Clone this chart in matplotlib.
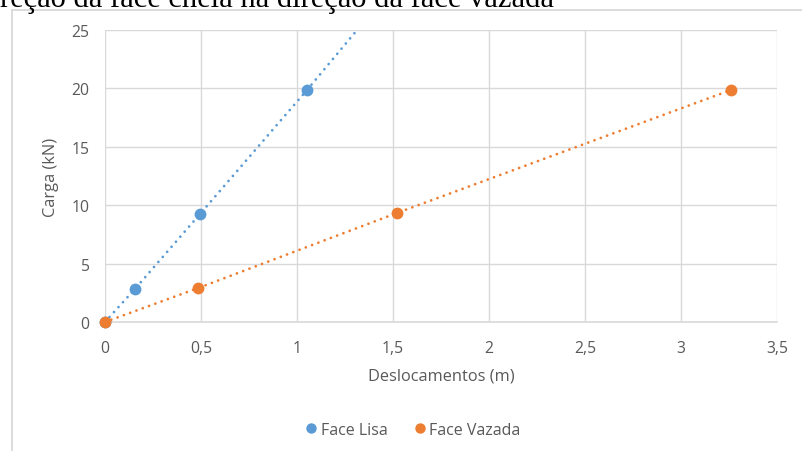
import matplotlib
matplotlib.use("Agg")
import matplotlib.pyplot as plt
from matplotlib.lines import Line2D
from matplotlib.patches import Rectangle
from matplotlib.ticker import FuncFormatter

# Load-displacement readings for the two faces
lisa_desloc = [0.0, 0.156, 0.495, 1.052, 1.567]
lisa_carga = [0.0, 2.83, 9.25, 19.86, 30.0]
vazada_desloc = [0.0, 0.484, 1.52, 3.26]
vazada_carga = [0.0, 2.90, 9.33, 19.86]

series_names = ["Face Lisa", "Face Vazada"]
x_ticks = [0, 0.5, 1, 1.5, 2, 2.5, 3, 3.5]
y_ticks = [0, 5, 10, 15, 20, 25]

BLUE = "#5B9BD5"
ORANGE = "#ED7D31"
GRID = "#D9D9D9"
TEXT = "#595959"
X_MAX, Y_MAX = 3.5, 25

plt.rcParams["font.family"] = ["Open Sans", "DejaVu Sans"]

W, H = 802, 452
fig = plt.figure(figsize=(W / 100, H / 100), dpi=100)

# caption line from the page above the chart (top half cut off)
fig.text(0 / W, 1 - 7 / H, "reção da face cheia na direção da face vazada",
         family=["Liberation Serif"], fontsize=22, color="black",
         ha="left", va="baseline")

# chart area frame
fig.patches.append(Rectangle((11.5 / W, -0.1), 1.2, 1 - 11 / H + 0.1,
                             transform=fig.transFigure, fill=False,
                             edgecolor=GRID, linewidth=1.3))

left, right, top, bottom = 105, 777, 31, 323
ax = fig.add_axes([left / W, 1 - bottom / H, (right - left) / W, (bottom - top) / H])

dot_style = dict(linestyle=(0, (0.01, 2.4)), linewidth=2.0, dash_capstyle="round")


def draw_series(xs, ys, color, z):
    # dotted connecting line, clipped to the plot area
    ax.plot(xs, ys, color=color, zorder=z, **dot_style)
    # markers drawn unclipped, only for points inside the axis range
    px = [x for x, y in zip(xs, ys) if x <= X_MAX and y <= Y_MAX]
    py = [y for x, y in zip(xs, ys) if x <= X_MAX and y <= Y_MAX]
    ax.plot(px, py, color=color, marker="o", markersize=8.5, linestyle="none",
            markeredgewidth=0, zorder=z + 1, clip_on=False)


draw_series(lisa_desloc, lisa_carga, BLUE, 3)
draw_series(vazada_desloc, vazada_carga, ORANGE, 5)

ax.set_xlim(0, X_MAX)
ax.set_ylim(0, Y_MAX)
ax.set_xticks(x_ticks)
ax.set_yticks(y_ticks)
fmt = FuncFormatter(lambda v, p: (f"{v:g}").replace(".", ","))
ax.xaxis.set_major_formatter(fmt)
ax.yaxis.set_major_formatter(fmt)
ax.grid(True, color=GRID, linewidth=1.0)
ax.set_axisbelow(True)
for s in ["top", "right", "left"]:
    ax.spines[s].set_visible(False)
ax.spines["bottom"].set_color(GRID)
ax.spines["bottom"].set_linewidth(1.2)
ax.tick_params(length=0, labelsize=11.3, labelcolor=TEXT)
ax.tick_params(axis="y", pad=11)
ax.tick_params(axis="x", pad=13)
ax.set_xlabel("Deslocamentos (m)", fontsize=11.8, color=TEXT, labelpad=8)
ax.set_ylabel("Carga (kN)", fontsize=11.8, color=TEXT, labelpad=9)

handles = [Line2D([], [], color=c, marker="o", linestyle="none", markersize=7.5,
                  markeredgewidth=0) for c in (BLUE, ORANGE)]
leg = fig.legend(handles, series_names, loc="center", bbox_to_anchor=(412 / W, 1 - 431 / H),
                 ncol=2, frameon=False, fontsize=11.5, handletextpad=0.1,
                 columnspacing=1.5, handlelength=1.0)
for t in leg.get_texts():
    t.set_color(TEXT)

fig.savefig("out.png", dpi=100)
